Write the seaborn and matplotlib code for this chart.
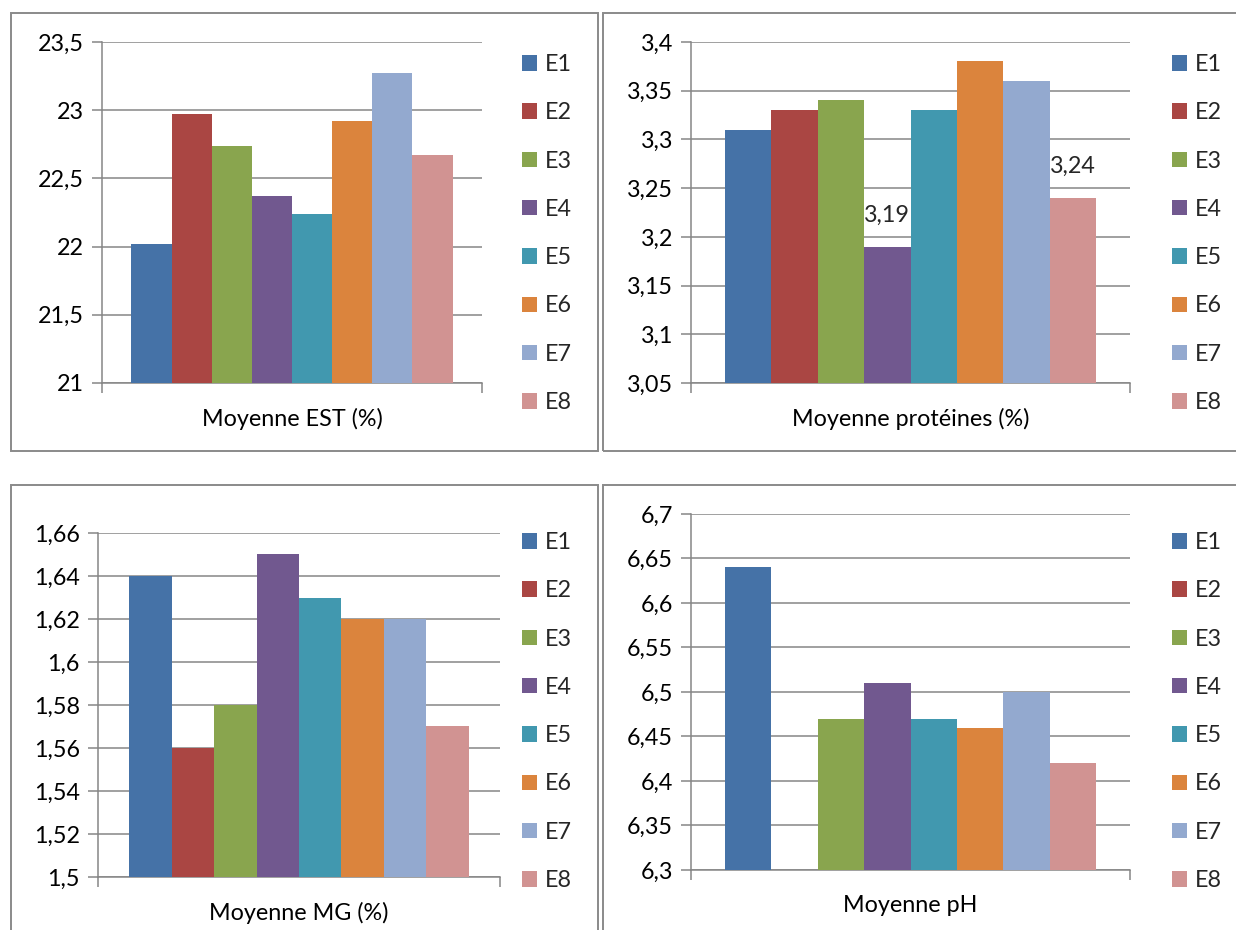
import numpy as np
import pandas as pd
import matplotlib
matplotlib.use("Agg")
import matplotlib.pyplot as plt
from matplotlib.patches import Rectangle, Patch
from matplotlib.ticker import MultipleLocator, FuncFormatter
import seaborn as sns

# Échantillons et couleurs
series = ["E1", "E2", "E3", "E4", "E5", "E6", "E7", "E8"]
colors = ["#4572A7", "#AA4643", "#89A54E", "#71588F",
          "#4198AF", "#DB843D", "#93A9CF", "#D19392"]

# Moyennes par échantillon
est = [22.02, 22.97, 22.74, 22.37, 22.24, 22.92, 23.27, 22.67]
proteines = [3.31, 3.33, 3.34, 3.19, 3.33, 3.38, 3.36, 3.24]
mg = [1.64, 1.56, 1.58, 1.65, 1.63, 1.62, 1.62, 1.57]
ph = [6.64, np.nan, 6.47, 6.51, 6.47, 6.46, 6.50, 6.42]

# Libellés des catégories
labels = ["Moyenne EST (%)", "Moyenne protéines (%)", "Moyenne MG (%)", "Moyenne pH"]
# Étiquettes de valeur affichées (graphique des protéines)
labelled = ["E4", "E8"]

sns.set_theme(style="white")
plt.rcParams["font.family"] = ["Lato", "DejaVu Sans"]

W, H = 1236, 930
fig = plt.figure(figsize=(W / 100, H / 100), dpi=100)
GRAY = "#868686"
FS = 16.8


def box(x0, y0, x1, y1):
    return [x0 / W, 1 - y1 / H, (x1 - x0) / W, (y1 - y0) / H]


def fmt(v, _pos=None):
    return f"{round(v, 4):g}".replace(".", ",")


panels = [
    dict(values=est, label=labels[0], ylim=(21, 23.5), step=0.5,
         ax=(102, 42, 482, 383), frame=(11, 13, 598, 451), leg=(522, 54), tags=[]),
    dict(values=proteines, label=labels[1], ylim=(3.05, 3.4), step=0.05,
         ax=(691, 42, 1130, 383), frame=(603, 13, 1245, 451), leg=(1172, 54), tags=labelled),
    dict(values=mg, label=labels[2], ylim=(1.5, 1.66), step=0.02,
         ax=(98, 533, 500, 877), frame=(11, 485, 598, 945), leg=(522, 532), tags=[]),
    dict(values=ph, label=labels[3], ylim=(6.3, 6.7), step=0.05,
         ax=(691, 514, 1130, 870), frame=(603, 485, 1245, 945), leg=(1172, 532), tags=[]),
]

for p in panels:
    fig.add_artist(Rectangle((p["frame"][0] / W, 1 - p["frame"][3] / H),
                             (p["frame"][2] - p["frame"][0]) / W,
                             (p["frame"][3] - p["frame"][1]) / H,
                             transform=fig.transFigure, fill=False,
                             edgecolor="#8a8a8a", linewidth=1.4))

    df = pd.DataFrame({"cat": [p["label"]] * len(series),
                       "serie": series, "val": p["values"]})
    ax = fig.add_axes(box(*p["ax"]))
    sns.barplot(data=df, x="cat", y="val", hue="serie", hue_order=series,
                palette=colors, saturation=1, width=0.845, linewidth=0,
                legend=False, ax=ax, zorder=3)

    ax.set_ylim(*p["ylim"])
    ax.set_xlim(-0.5, 0.5)
    ax.yaxis.set_major_locator(MultipleLocator(p["step"]))
    ax.yaxis.set_major_formatter(FuncFormatter(fmt))
    ax.grid(axis="y", color=GRAY, linewidth=1.1, zorder=0)
    ax.set_axisbelow(True)
    ax.set_xlabel("")
    ax.set_ylabel("")
    for side in ("top", "right"):
        ax.spines[side].set_visible(False)
    for side in ("left", "bottom"):
        ax.spines[side].set_color(GRAY)
        ax.spines[side].set_linewidth(1.1)
    ax.tick_params(axis="y", left=True, length=7, width=1.1, color=GRAY,
                   labelsize=FS, pad=6, labelcolor="black")
    ax.tick_params(axis="x", which="major", length=0, pad=18,
                   labelsize=FS, labelcolor="black")
    ax.set_xticks([-0.5, 0.5], minor=True)
    ax.tick_params(axis="x", which="minor", bottom=True, length=7, width=1.1,
                   color=GRAY)

    # Étiquettes de valeur au-dessus des barres choisies
    if p["tags"]:
        present = [s for s, v in zip(series, p["values"]) if not np.isnan(v)]
        for s, cont in zip(present, ax.containers):
            if s in p["tags"]:
                v = p["values"][series.index(s)]
                ax.bar_label(cont, labels=[fmt(v)], padding=15, fontsize=FS)

    handles = [Patch(facecolor=c, edgecolor="none") for c in colors]
    lx, ly = p["leg"]
    ax.legend(handles, series, loc="upper left",
              bbox_to_anchor=(lx / W, 1 - ly / H), bbox_transform=fig.transFigure,
              frameon=False, fontsize=FS, borderpad=0, borderaxespad=0,
              handlelength=0.65, handleheight=0.65, handletextpad=0.35,
              labelspacing=1.17)

fig.savefig("out.png", dpi=100)
